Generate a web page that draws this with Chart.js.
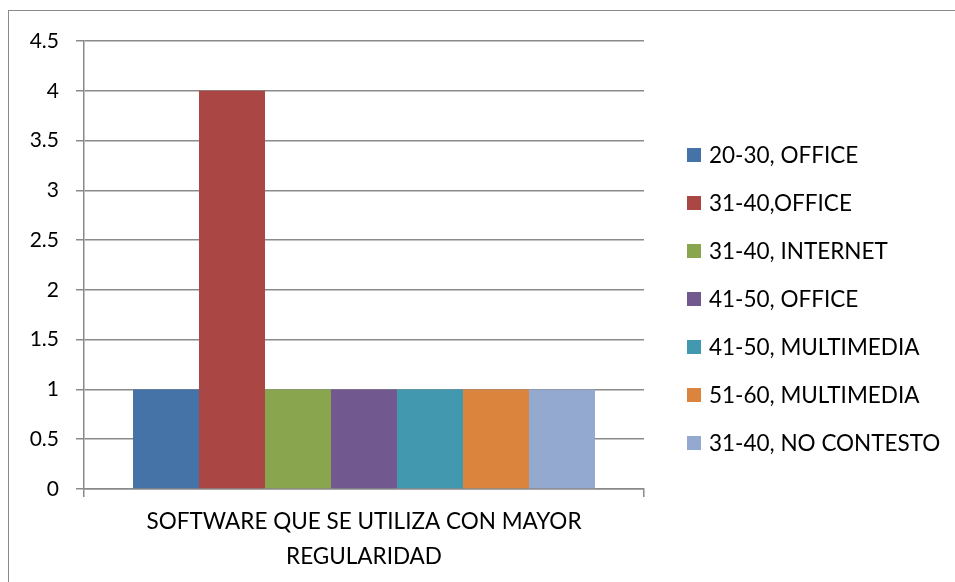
<!DOCTYPE html>
<html>
<head>
<meta charset="utf-8">
<script src="https://cdn.jsdelivr.net/npm/chart.js@4.4.0/dist/chart.umd.min.js"></script>
<style>
  html, body { margin: 0; padding: 0; background: #fff; overflow: hidden; }
  #wrap { position: relative; width: 955px; height: 582px; }
  #frame { position: absolute; left: 8px; top: 10px; width: 1000px; height: 700px; border: 1.5px solid #8a8a8a; }
  canvas { position: absolute; left: 0; top: 0; }
</style>
</head>
<body>
<div id="wrap">
  <div id="frame"></div>
  <canvas id="chart" width="955" height="582"></canvas>
</div>
<script>
// category (two lines, as in the original)
const categories = [['SOFTWARE QUE SE UTILIZA CON MAYOR', 'REGULARIDAD']];

// one series per age group / software
const seriesNames = [
    '20-30, OFFICE',
    '31-40,OFFICE',
    '31-40, INTERNET',
    '41-50, OFFICE',
    '41-50, MULTIMEDIA',
    '51-60, MULTIMEDIA',
    '31-40, NO CONTESTO'
];
const seriesValues = [1, 4, 1, 1, 1, 1, 1];
const seriesColors = ['#4572A7', '#AA4643', '#89A54E', '#71588F', '#4198AF', '#DB843D', '#93A9CF'];

// y axis ticks 0 .. 4.5
const yMin = 0;
const yMax = 4.5;
const yStep = 0.5;

const fontFamily = 'Lato, "Open Sans", sans-serif';
const gridColor = '#8a8a8a';

const datasets = seriesNames.map(function (name, i) {
    return {
        label: name,
        data: [seriesValues[i]],
        backgroundColor: seriesColors[i],
        borderWidth: 0,
        barPercentage: 1,
        categoryPercentage: 0.825
    };
});

// legend drawn to the right of the plot, one row per dataset
const sideLegend = {
    id: 'sideLegend',
    afterDraw: function (chart) {
        const c = chart.ctx;
        const left = chart.chartArea.right + 43;
        const firstRow = 155;
        const rowStep = 48;
        c.save();
        c.font = '22.5px ' + fontFamily;
        c.textBaseline = 'middle';
        c.textAlign = 'left';
        chart.data.datasets.forEach(function (ds, i) {
            const y = firstRow + i * rowStep;
            c.fillStyle = ds.backgroundColor;
            c.fillRect(left, y - 7, 14, 14);
            c.fillStyle = '#000';
            c.fillText(ds.label, left + 22, y + 1);
        });
        c.restore();
    }
};

const ctx = document.getElementById('chart').getContext('2d');

new Chart(ctx, {
    type: 'bar',
    data: {
        labels: categories,
        datasets: datasets
    },
    options: {
        responsive: false,
        animation: false,
        layout: {
            padding: { top: 41, right: 311, bottom: 0, left: 0 }
        },
        scales: {
            x: {
                grid: {
                    display: true,
                    offset: true,
                    drawOnChartArea: false,
                    color: gridColor,
                    lineWidth: 1.5,
                    tickLength: 8
                },
                border: { color: gridColor, width: 1.5 },
                ticks: {
                    color: '#000',
                    padding: 7,
                    maxRotation: 0,
                    font: { family: fontFamily, size: 22.5, lineHeight: 1.55 }
                },
                afterFit: function (scale) { scale.height = 93; }
            },
            y: {
                min: yMin,
                max: yMax,
                grid: {
                    color: gridColor,
                    lineWidth: 1.5,
                    tickLength: 8
                },
                border: { color: gridColor, width: 1.5 },
                ticks: {
                    stepSize: yStep,
                    color: '#000',
                    padding: 17,
                    font: { family: fontFamily, size: 21 },
                    callback: function (v) { return String(Math.round(v * 10) / 10); }
                },
                afterFit: function (scale) { scale.width = 84; }
            }
        },
        plugins: {
            legend: { display: false },
            tooltip: { enabled: false }
        }
    },
    plugins: [sideLegend]
});
</script>
</body>
</html>
